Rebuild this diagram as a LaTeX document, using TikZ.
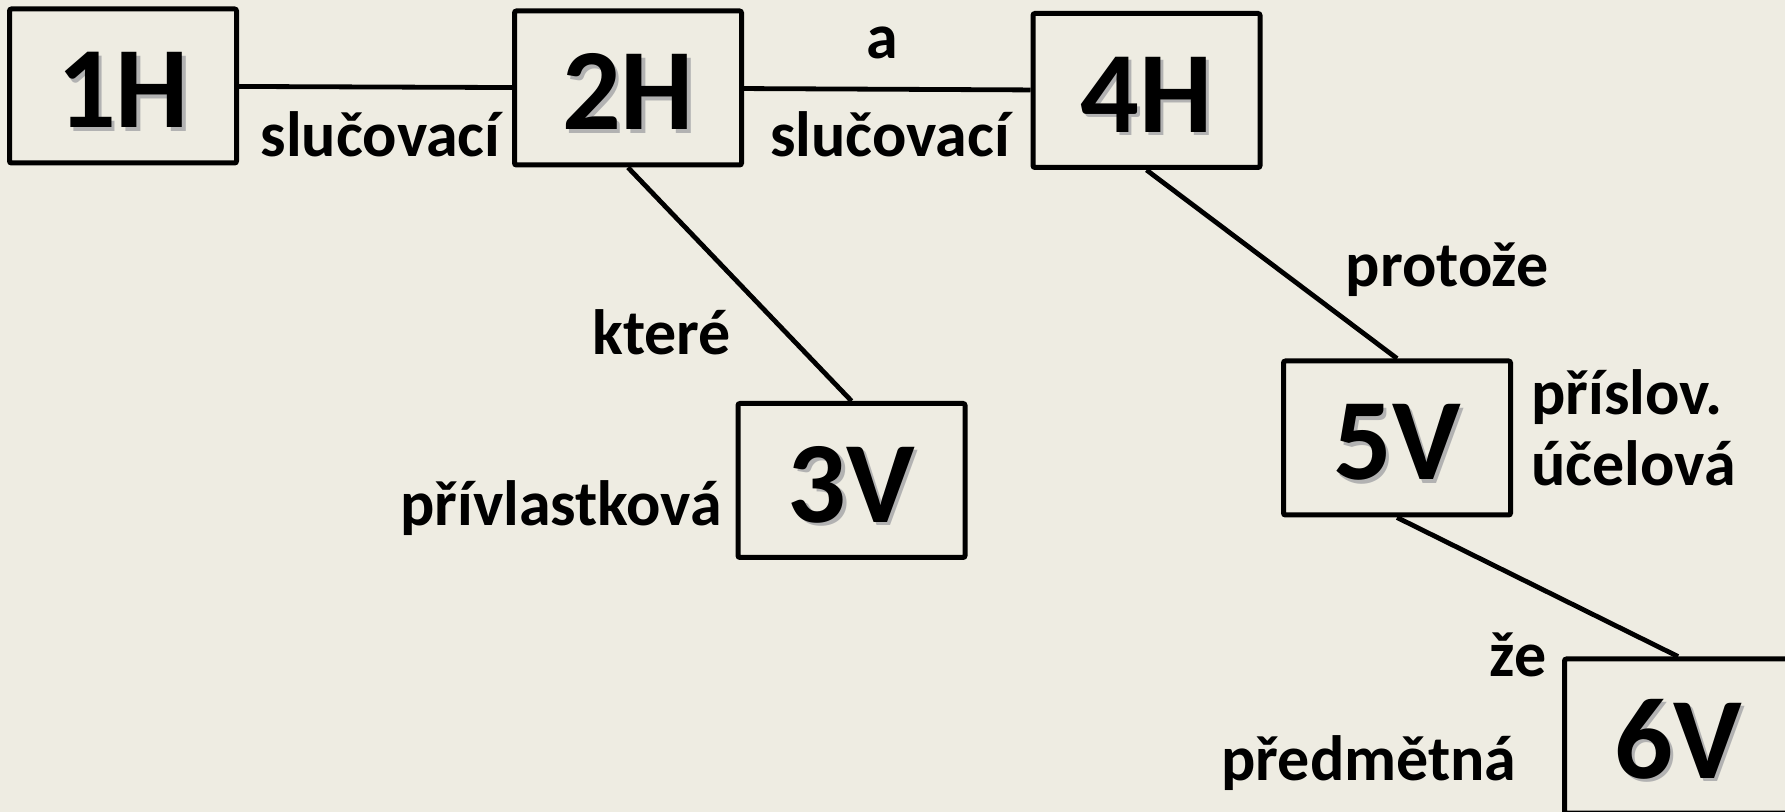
\documentclass[tikz,border=0pt]{standalone}
\usepackage{fontspec}
\setmainfont{Carlito}
\definecolor{bg}{RGB}{238,236,226}
\newcommand\shtext[1]{\makebox[0pt][l]{\raisebox{-1.6pt}{\hspace{1.6pt}\textcolor{black!30}{#1}}}#1}
\begin{document}
\begin{tikzpicture}[x=0.5pt,y=-0.5pt,
  box/.style={draw=black, line width=2.5pt, rounded corners=1pt, minimum width=113.5pt, minimum height=77pt,
    inner sep=0pt, font=\fontsize{58}{62}\bfseries\selectfont, text height=42pt, text depth=0pt},
  lbl/.style={anchor=base, inner sep=0pt, font=\fontsize{32}{36}\bfseries\selectfont},
  conn/.style={line width=2.4pt}]
\fill[bg] (0,0) rectangle (1785,812);
\useasboundingbox (0,0) rectangle (1785,812);
\node[box] (h1) at (123,86) {\shtext{1H}};
\node[box] (h2) at (628,88) {\shtext{2H}};
\node[box] (h4) at (1146.5,90.5) {\shtext{4H}};
\node[box] (v3) at (851.5,480.5) {\shtext{3V}};
\node[box] (v5) at (1397,438) {\shtext{5V}};
\node[box] (v6) at (1678,736) {\shtext{6V}};
\draw[conn] (h1) -- (h2);
\draw[conn] (h2) -- (h4);
\draw[conn] (h2.south) -- (v3.north);
\draw[conn] (h4.south) -- (v5.north);
\draw[conn] (v5.south) -- (v6.north);
\node[lbl] (l1) at (380.5,157) {slučovací};
\node[lbl] (l2) at (882,59) {a};
\node[lbl] (l3) at (890,157) {slučovací};
\node[lbl] (l4) at (662,355) {které};
\node[lbl] (l5) at (561,526) {přívlastková};
\node[lbl] (l6) at (1447,287) {protože};
\node[lbl, anchor=base west] (l7) at (1531,415) {příslov.};
\node[lbl, anchor=base west] (l8) at (1531,486) {účelová};
\node[lbl] (l9) at (1518,677) {že};
\node[lbl] (l10) at (1369,781) {předmětná};
\end{tikzpicture}
\end{document}
